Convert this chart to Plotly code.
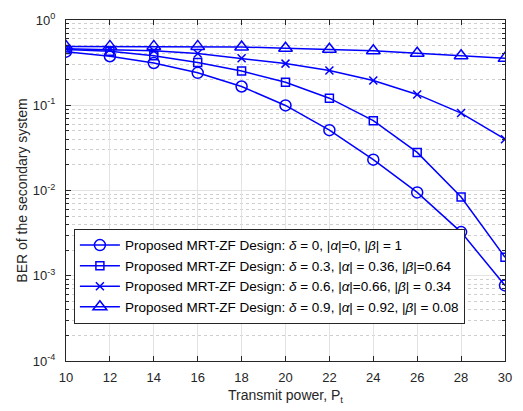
import plotly.graph_objects as go

# Transmit power (dB) and BER of the secondary system for each design
power = [10, 12, 14, 16, 18, 20, 22, 24, 26, 28, 30]
ber_d0 = [0.425, 0.376, 0.313, 0.240, 0.166, 0.0995, 0.051, 0.023, 0.0095, 0.00325, 0.00077]
ber_d03 = [0.45, 0.43, 0.38, 0.318, 0.252, 0.186, 0.121, 0.066, 0.028, 0.0084, 0.00165]
ber_d06 = [0.46, 0.45, 0.435, 0.405, 0.355, 0.308, 0.256, 0.195, 0.134, 0.081, 0.040]
ber_d09 = [0.49, 0.49, 0.49, 0.49, 0.483, 0.466, 0.454, 0.435, 0.408, 0.38, 0.355]

legend_names = [
    "Proposed MRT-ZF Design: <i>δ</i> = 0, |<i>α</i>|=0, |<i>β</i>| = 1",
    "Proposed MRT-ZF Design: <i>δ</i> = 0.3, |<i>α</i>| = 0.36, |<i>β</i>|=0.64",
    "Proposed MRT-ZF Design: <i>δ</i> = 0.6, |<i>α</i>|=0.66, |<i>β</i>| = 0.34",
    "Proposed MRT-ZF Design: <i>δ</i> = 0.9, |<i>α</i>| = 0.92, |<i>β</i>| = 0.08",
]
y_tick_vals = [1e-4, 1e-3, 1e-2, 1e-1, 1]
y_tick_text = ["10<sup>-4</sup>", "10<sup>-3</sup>", "10<sup>-2</sup>", "10<sup>-1</sup>", "10<sup>0</sup>"]

series = [ber_d0, ber_d03, ber_d06, ber_d09]
symbols = ["circle-open", "square-open", "x-thin-open", "triangle-up-open"]
sizes = [11, 8, 8, 12]

BLUE = "#0000ff"
AXIS = "#262626"
FONT = "Liberation Sans, Arial, sans-serif"

fig = go.Figure()
for ys, sym, sz, name in zip(series, symbols, sizes, legend_names):
    fig.add_trace(go.Scatter(
        x=power, y=ys, mode="lines+markers", name=name,
        line=dict(color=BLUE, width=1.5),
        marker=dict(symbol=sym, size=sz, color=BLUE,
                    line=dict(color=BLUE, width=1.5)),
    ))

fig.update_layout(
    width=523, height=411,
    margin=dict(l=66, r=11, t=14, b=49),
    paper_bgcolor="white", plot_bgcolor="white",
    font=dict(family=FONT, size=13, color=AXIS),
    showlegend=True,
    legend=dict(
        x=0.018, y=0.109, xanchor="left", yanchor="bottom",
        bgcolor="white", bordercolor=AXIS, borderwidth=1,
        font=dict(family=FONT, size=13.5, color="black"),
        tracegroupgap=0, itemwidth=40,
    ),
)

fig.update_xaxes(
    range=[10, 30], tickvals=power, ticks="inside", ticklen=5,
    tickfont=dict(size=13, color=AXIS), ticklabelstandoff=4,
    tickcolor=AXIS, showline=True, linecolor=AXIS, linewidth=1,
    mirror="ticks", showgrid=True, gridcolor="#e3e3e3", gridwidth=1,
    zeroline=False,
    title=dict(text="Transmit power, P<sub>t</sub>", standoff=6,
               font=dict(size=14, color=AXIS)),
)

fig.update_yaxes(
    type="log", range=[-4, 0], tickvals=y_tick_vals, ticktext=y_tick_text,
    tickfont=dict(size=13, color=AXIS), ticklabelstandoff=7,
    ticks="inside", ticklen=5, tickcolor=AXIS, showline=True,
    linecolor=AXIS, linewidth=1, mirror="ticks",
    showgrid=True, gridcolor="#e3e3e3", gridwidth=1, zeroline=False,
    minor=dict(dtick="D1", ticks="inside", ticklen=3, tickcolor=AXIS,
               showgrid=True, gridcolor="#cfcfcf", griddash="dot"),
    title=dict(text="BER of the secondary system", standoff=1,
               font=dict(size=14, color=AXIS)),
)

fig.write_html("out.html")
